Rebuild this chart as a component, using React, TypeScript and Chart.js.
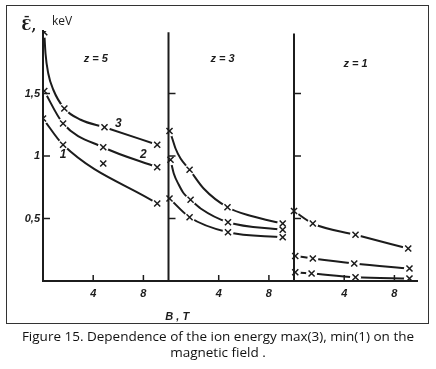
import React, { useEffect, useRef } from "react";
import { Chart, registerables } from "chart.js";

Chart.register(...registerables);

const INK = "#1c1c1c";

// ---- data (B in tesla along a shared axis: panel z=5 from 0, z=3 from 10, z=1 from 20) ----
const panelStarts = [0, 10, 20];
const panelTops = [2.0, 1.99, 1.98];
const panelLabels = ["z = 5", "z = 3", "z = 1"];
const panelLabelB = [4.2, 14.3, 24.9];
const panelLabelE = [1.78, 1.78, 1.74];

const xTickOffsets = [4, 8];
const xTickLabels = ["4", "8"];
const yTickValues = [0.5, 1, 1.5];
const yTickLabels = ["0,5", "1", "1,5"];

const curveLabels = ["3", "2", "1"];
const curveLabelB = [6.0, 8.0, 1.6];
const curveLabelE = [1.26, 1.01, 1.01];

// z = 5
const z5MaxB = [0.1, 0.2, 0.42, 0.82, 1.7, 3.0, 4.9, 9.1];
const z5MaxE = [1.99, 1.82, 1.66, 1.53, 1.38, 1.29, 1.23, 1.09];
const z5MaxM = [1, 0, 0, 0, 1, 0, 1, 1];
const z5MidB = [0.1, 1.6, 4.8, 9.1];
const z5MidE = [1.52, 1.26, 1.07, 0.91];
const z5MidM = [1, 1, 1, 1];
const z5MinB = [0.0, 1.6, 9.1];
const z5MinE = [1.3, 1.09, 0.62];
const z5MinM = [1, 1, 1];
const looseMarkB = [4.8];
const looseMarkE = [0.94];

// z = 3
const z3MaxB = [10.08, 10.3, 10.56, 10.96, 11.68, 12.8, 14.7, 16.6, 19.1];
const z3MaxE = [1.2, 1.14, 1.06, 0.98, 0.89, 0.74, 0.59, 0.52, 0.46];
const z3MaxM = [1, 0, 0, 0, 1, 0, 1, 0, 1];
const z3MidB = [10.16, 10.42, 10.82, 11.22, 11.76, 12.56, 14.74, 19.1];
const z3MidE = [0.97, 0.86, 0.77, 0.7, 0.65, 0.58, 0.47, 0.41];
const z3MidM = [1, 0, 0, 0, 1, 0, 1, 1];
const z3MinB = [10.08, 11.68, 14.74, 19.1];
const z3MinE = [0.66, 0.51, 0.39, 0.35];
const z3MinM = [1, 1, 1, 1];

// z = 1
const z1MaxB = [20.0, 21.5, 24.9, 29.1];
const z1MaxE = [0.56, 0.46, 0.37, 0.26];
const z1MaxM = [1, 1, 1, 1];
const z1MidB = [20.1, 21.5, 24.8, 29.2];
const z1MidE = [0.2, 0.18, 0.14, 0.1];
const z1MidM = [1, 1, 1, 1];
const z1MinB = [20.1, 21.4, 24.9, 29.2];
const z1MinE = [0.07, 0.06, 0.03, 0.02];
const z1MinM = [1, 1, 1, 1];

const curves = [
  [z5MaxB, z5MaxE, z5MaxM],
  [z5MidB, z5MidE, z5MidM],
  [z5MinB, z5MinE, z5MinM],
  [z3MaxB, z3MaxE, z3MaxM],
  [z3MidB, z3MidE, z3MidM],
  [z3MinB, z3MinE, z3MinM],
  [z1MaxB, z1MaxE, z1MaxM],
  [z1MidB, z1MidE, z1MidM],
  [z1MinB, z1MinE, z1MinM],
];

function pts(bs: number[], es: number[]) {
  return bs.map((b, i) => ({ x: b, y: es[i] }));
}

const markerPts: { x: number; y: number }[] = [];
curves.forEach(([b, e, m]) => {
  b.forEach((v, i) => {
    if (m[i]) markerPts.push({ x: v, y: e[i] });
  });
});
looseMarkB.forEach((v, i) => markerPts.push({ x: v, y: looseMarkE[i] }));

const decorPlugin = {
  id: "decor",
  afterDraw(chart: any) {
    const { ctx, chartArea } = chart;
    const xs = chart.scales.x;
    const ys = chart.scales.y;
    ctx.save();
    ctx.strokeStyle = INK;
    ctx.fillStyle = INK;
    ctx.lineWidth = 1.5;
    panelStarts.forEach((p) => {
      xTickOffsets.forEach((t) => {
        const px = xs.getPixelForValue(p + t);
        ctx.beginPath();
        ctx.moveTo(px, chartArea.bottom);
        ctx.lineTo(px, chartArea.bottom - 6);
        ctx.stroke();
      });
      yTickValues.forEach((v) => {
        const px = xs.getPixelForValue(p);
        const py = ys.getPixelForValue(v);
        ctx.beginPath();
        ctx.moveTo(px, py);
        ctx.lineTo(px + 7, py);
        ctx.stroke();
      });
    });
    ctx.textBaseline = "middle";
    ctx.textAlign = "center";
    ctx.font = 'italic bold 11px "Liberation Sans"';
    panelStarts.forEach((p) => {
      xTickOffsets.forEach((t, i) => {
        ctx.fillText(xTickLabels[i], xs.getPixelForValue(p + t), chartArea.bottom + 13);
      });
    });
    ctx.textAlign = "right";
    yTickValues.forEach((v, i) => {
      ctx.fillText(yTickLabels[i], chartArea.left - 3, ys.getPixelForValue(v));
    });
    ctx.textAlign = "center";
    ctx.font = 'italic bold 11px "Liberation Sans"';
    panelLabels.forEach((s, i) => {
      ctx.fillText(s, xs.getPixelForValue(panelLabelB[i]), ys.getPixelForValue(panelLabelE[i]));
    });
    ctx.font = 'italic bold 12px "Liberation Sans"';
    curveLabels.forEach((s, i) => {
      ctx.fillText(s, xs.getPixelForValue(curveLabelB[i]), ys.getPixelForValue(curveLabelE[i]));
    });
    // axis titles
    ctx.font = 'italic bold 11px "Liberation Sans"';
    ctx.fillText("B , T", xs.getPixelForValue(10.7), chartArea.bottom + 36);
    ctx.font = 'bold 14px "DejaVu Serif"';
    ctx.fillText("\u0190\u0304,", chartArea.left - 14, chartArea.top - 5);
    ctx.textAlign = "left";
    ctx.font = '12px "Open Sans"';
    ctx.fillText("keV", chartArea.left + 9, chartArea.top - 9);
    ctx.restore();
  },
};

export default function App() {
  const ref = useRef<HTMLCanvasElement>(null);
  useEffect(() => {
    const datasets: any[] = [];
    datasets.push({
      data: markerPts,
      showLine: false,
      pointStyle: "crossRot",
      pointRadius: 4.3,
      pointBorderWidth: 1.5,
      pointBorderColor: INK,
      pointBackgroundColor: INK,
      order: 0,
    });
    panelStarts.forEach((p, i) => {
      if (p === 0) return;
      datasets.push({
        data: [
          { x: p, y: 0 },
          { x: p, y: panelTops[i] },
        ],
        borderColor: INK,
        borderWidth: 2,
        pointRadius: 0,
        order: 1,
      });
    });
    datasets.push({
      data: markerPts,
      showLine: false,
      pointStyle: "circle",
      pointRadius: 5.5,
      pointBorderWidth: 0,
      pointBackgroundColor: "#ffffff",
      pointBorderColor: "#ffffff",
      order: 2,
    });
    curves.forEach(([b, e]) => {
      datasets.push({
        data: pts(b, e),
        borderColor: INK,
        borderWidth: 2,
        pointRadius: 0,
        cubicInterpolationMode: "monotone",
        order: 3,
      });
    });
    const chart = new Chart(ref.current!, {
      type: "line",
      data: { datasets },
      options: {
        animation: false,
        responsive: false,
        devicePixelRatio: 1,
        events: [],
        layout: { autoPadding: false, padding: { left: 43, right: 19, top: 31, bottom: 49 } },
        plugins: { legend: { display: false }, tooltip: { enabled: false } },
        scales: {
          x: {
            type: "linear",
            min: 0,
            max: 29.8,
            grid: { display: false, drawTicks: false },
            ticks: { display: false },
            border: { display: true, color: INK, width: 2, z: 1 },
          },
          y: {
            type: "linear",
            min: 0,
            max: 2,
            grid: { display: false, drawTicks: false },
            ticks: { display: false },
            border: { display: true, color: INK, width: 2, z: 1 },
          },
        },
      } as any,
      plugins: [decorPlugin],
    });
    return () => chart.destroy();
  }, []);
  return (
    <div style={{ position: "absolute", left: 0, top: 0, width: 436, height: 369, background: "#ffffff" }}>
      <div
        style={{
          position: "absolute",
          left: 6,
          top: 5,
          width: 423,
          height: 319,
          border: "1px solid #333",
          boxSizing: "border-box",
        }}
      />
      <canvas
        ref={ref}
        width={436}
        height={330}
        style={{ position: "absolute", left: 0, top: 0, width: 436, height: 330 }}
      />
      <div
        style={{
          position: "absolute",
          left: 0,
          top: 328,
          width: 436,
          textAlign: "center",
          fontFamily: '"Open Sans"',
          fontSize: 13.5,
          lineHeight: "16px",
          color: "#111",
          whiteSpace: "nowrap",
        }}
      >
        Figure 15. Dependence of the ion energy max(3), min(1) on the
        <br />
        magnetic field .
      </div>
    </div>
  );
}
